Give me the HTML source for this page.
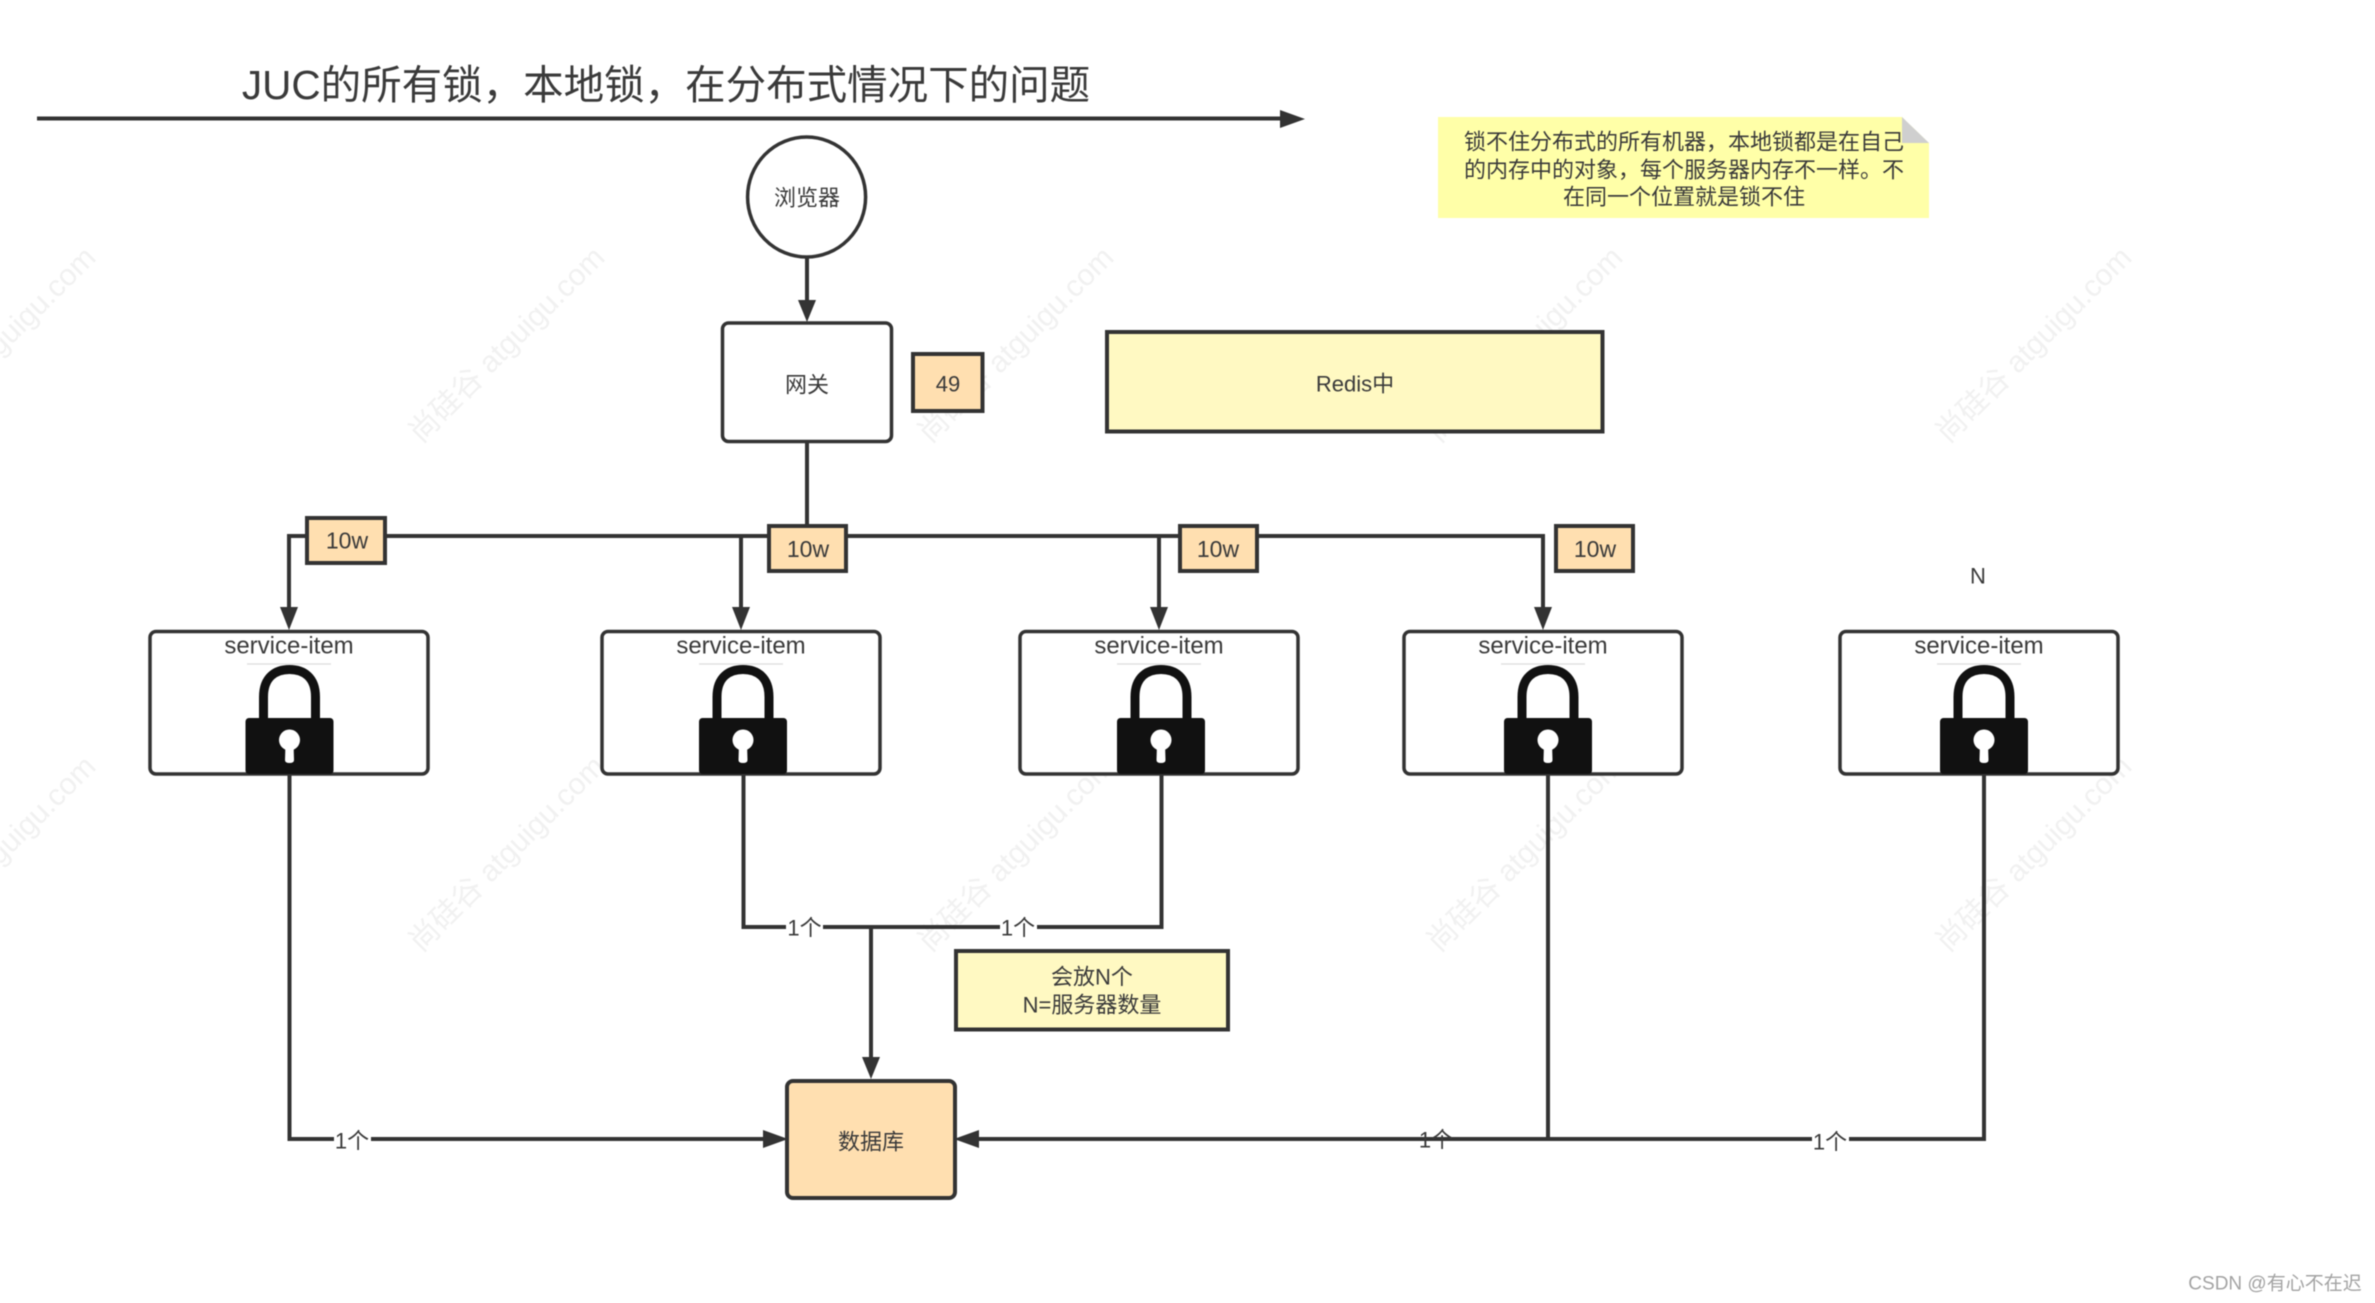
<!DOCTYPE html>
<html>
<head>
<meta charset="utf-8">
<style>
html,body{margin:0;padding:0;background:#fff;width:2375px;height:1303px;overflow:hidden}
svg{display:block;filter:blur(0.5px)}
text{font-family:"Liberation Sans","Noto Sans CJK SC",sans-serif;fill:#3a3a3a;text-anchor:middle;dominant-baseline:central}
.wm{fill:#f1f1f1;font-size:30px}
.box{stroke:#333;stroke-width:3.5;fill:#fff}
.org{stroke:#333;stroke-width:4;fill:#ffdfb0}
.yel{stroke:#333;stroke-width:4;fill:#fff9c2}
.ln{stroke:#333;stroke-width:4;fill:none}
.lbl{font-size:22px}
.s{font-size:23px}
.si{font-size:24px}
</style>
</head>
<body>
<svg width="2375" height="1303" viewBox="0 0 2375 1303" xmlns="http://www.w3.org/2000/svg">
<defs>
<g id="lock">
  <path d="M-26 54 V32 C-26 12 -14 4.500 0 4.500 C14 4.500 26 12 26 32 V54" fill="none" stroke="#111" stroke-width="9"/>
  <rect x="-44" y="53" width="88" height="56" rx="3.500" fill="#111"/>
  <circle cx="0" cy="75" r="10.500" fill="#fff"/>
  <path d="M-4 78 H4 L4.500 95 Q4.500 98 0 98 Q-4.500 98 -4.500 95 Z" fill="#fff"/>
</g>
</defs>
<rect width="2375" height="1303" fill="#fff"/>

<!-- watermarks -->
<g class="wms">
<text class="wm" transform="translate(-2 345) rotate(-45)">尚硅谷 atguigu.com</text>
<text class="wm" transform="translate(507 345) rotate(-45)">尚硅谷 atguigu.com</text>
<text class="wm" transform="translate(1016 345) rotate(-45)">尚硅谷 atguigu.com</text>
<text class="wm" transform="translate(1525 345) rotate(-45)">尚硅谷 atguigu.com</text>
<text class="wm" transform="translate(2034 345) rotate(-45)">尚硅谷 atguigu.com</text>
<text class="wm" transform="translate(-2 854) rotate(-45)">尚硅谷 atguigu.com</text>
<text class="wm" transform="translate(507 854) rotate(-45)">尚硅谷 atguigu.com</text>
<text class="wm" transform="translate(1016 854) rotate(-45)">尚硅谷 atguigu.com</text>
<text class="wm" transform="translate(1525 854) rotate(-45)">尚硅谷 atguigu.com</text>
<text class="wm" transform="translate(2034 854) rotate(-45)">尚硅谷 atguigu.com</text>
</g>

<!-- title -->
<text x="666" y="85" style="font-size:40.500px">JUC的所有锁，本地锁，在分布式情况下的问题</text>
<line x1="37" y1="118.500" x2="1285" y2="118.500" class="ln"/>
<polygon points="1280,110 1305,119 1280,128" fill="#333"/>

<!-- browser -->
<ellipse cx="806.600" cy="197" rx="59" ry="60" class="box"/>
<text x="807" y="198" class="lbl">浏览器</text>
<line x1="807" y1="257" x2="807" y2="305" class="ln"/>
<polygon points="798,300 816,300 807,322" fill="#333"/>

<!-- connectors top -->
<line x1="807" y1="442" x2="807" y2="537" class="ln"/>
<path d="M289 612 V536 H1543 V612" class="ln"/>
<line x1="741" y1="536" x2="741" y2="612" class="ln"/>
<line x1="1159" y1="536" x2="1159" y2="612" class="ln"/>
<polygon points="280,607 298,607 289,630" fill="#333"/>
<polygon points="732,607 750,607 741,630" fill="#333"/>
<polygon points="1150,607 1168,607 1159,630" fill="#333"/>
<polygon points="1534,607 1552,607 1543,630" fill="#333"/>

<!-- gateway -->
<rect x="722.500" y="323" width="169" height="118.500" rx="6" class="box"/>
<text x="807" y="385" class="lbl">网关</text>
<rect x="913" y="354" width="69.500" height="57" class="org"/>
<text x="948" y="384" class="lbl">49</text>

<!-- redis -->
<rect x="1107" y="332" width="495.500" height="99.500" class="yel"/>
<text x="1355" y="384" class="lbl">Redis中</text>

<!-- note -->
<path d="M1438 117 H1902 L1929 143 V218 H1438 Z" fill="#ffffa8"/>
<path d="M1902 117 L1929 143 H1902 Z" fill="#cfcfcf"/>
<text x="1684" y="142" style="font-size:22px">锁不住分布式的所有机器，本地锁都是在自己</text>
<text x="1684" y="170" style="font-size:22px">的内存中的对象，每个服务器内存不一样。不</text>
<text x="1684" y="197" style="font-size:22px">在同一个位置就是锁不住</text>

<!-- 10w tags -->
<rect x="307" y="518" width="78" height="45" class="org"/>
<text x="347" y="540.500" class="s">10w</text>
<rect x="769" y="526" width="77" height="45" class="org"/>
<text x="808" y="549" class="s">10w</text>
<rect x="1180" y="526" width="77" height="45" class="org"/>
<text x="1218" y="549" class="s">10w</text>
<rect x="1556" y="526" width="77" height="45" class="org"/>
<text x="1595" y="549" class="s">10w</text>
<text x="1978" y="576" class="lbl">N</text>

<!-- lower connectors -->
<path d="M289.500 775 V1139 H765" class="ln"/>
<path d="M743.500 775 V927 H1161.500 V775" class="ln"/>
<line x1="871" y1="927" x2="871" y2="1062" class="ln"/>
<polygon points="862,1057 880,1057 871,1079" fill="#333"/>
<polygon points="763,1130 788,1139 763,1148" fill="#333"/>
<path d="M975 1139 H1984 V775" class="ln"/>
<line x1="1548" y1="775" x2="1548" y2="1139" class="ln"/>
<polygon points="979,1130 954,1139 979,1148" fill="#333"/>

<!-- services -->
<g>
<rect x="150" y="631.500" width="278" height="142.500" rx="6" class="box"/>
<text x="289" y="646" class="si">service-item</text>
<line x1="247" y1="664" x2="331" y2="664" stroke="#e2e2e2" stroke-width="1.500"/>
<use href="#lock" x="289.500" y="665"/>
</g>
<g>
<rect x="602" y="631.500" width="278" height="142.500" rx="6" class="box"/>
<text x="741" y="646" class="si">service-item</text>
<line x1="699" y1="664" x2="783" y2="664" stroke="#e2e2e2" stroke-width="1.500"/>
<use href="#lock" x="743" y="665"/>
</g>
<g>
<rect x="1020" y="631.500" width="278" height="142.500" rx="6" class="box"/>
<text x="1159" y="646" class="si">service-item</text>
<line x1="1117" y1="664" x2="1201" y2="664" stroke="#e2e2e2" stroke-width="1.500"/>
<use href="#lock" x="1161" y="665"/>
</g>
<g>
<rect x="1404" y="631.500" width="278" height="142.500" rx="6" class="box"/>
<text x="1543" y="646" class="si">service-item</text>
<line x1="1501" y1="664" x2="1585" y2="664" stroke="#e2e2e2" stroke-width="1.500"/>
<use href="#lock" x="1548" y="665"/>
</g>
<g>
<rect x="1840" y="631.500" width="278" height="142.500" rx="6" class="box"/>
<text x="1979" y="646" class="si">service-item</text>
<line x1="1937" y1="664" x2="2021" y2="664" stroke="#e2e2e2" stroke-width="1.500"/>
<use href="#lock" x="1984" y="665"/>
</g>

<!-- edge labels -->
<rect x="786" y="915" width="37" height="26" fill="#fff"/>
<text x="804.500" y="928" class="lbl">1个</text>
<rect x="1000" y="915" width="37" height="26" fill="#fff"/>
<text x="1018" y="928" class="lbl">1个</text>
<rect x="334" y="1127" width="37" height="26" fill="#fff"/>
<text x="352" y="1141" class="lbl">1个</text>
<text x="1436" y="1140" class="lbl">1个</text>
<rect x="1812" y="1127" width="37" height="26" fill="#fff"/>
<text x="1830" y="1142" class="lbl">1个</text>

<!-- count note -->
<rect x="956" y="951" width="272" height="78.500" class="yel"/>
<text x="1092" y="977" class="lbl">会放N个</text>
<text x="1092" y="1005" class="lbl">N=服务器数量</text>

<!-- db -->
<rect x="787" y="1081" width="168" height="117" rx="6" stroke="#333" stroke-width="4" fill="#ffdfb0"/>
<text x="871" y="1142" class="lbl">数据库</text>

<text x="2275" y="1284" style="font-size:19px;fill:#a3a3a3">CSDN @有心不在迟</text>
</svg>
</body>
</html>
